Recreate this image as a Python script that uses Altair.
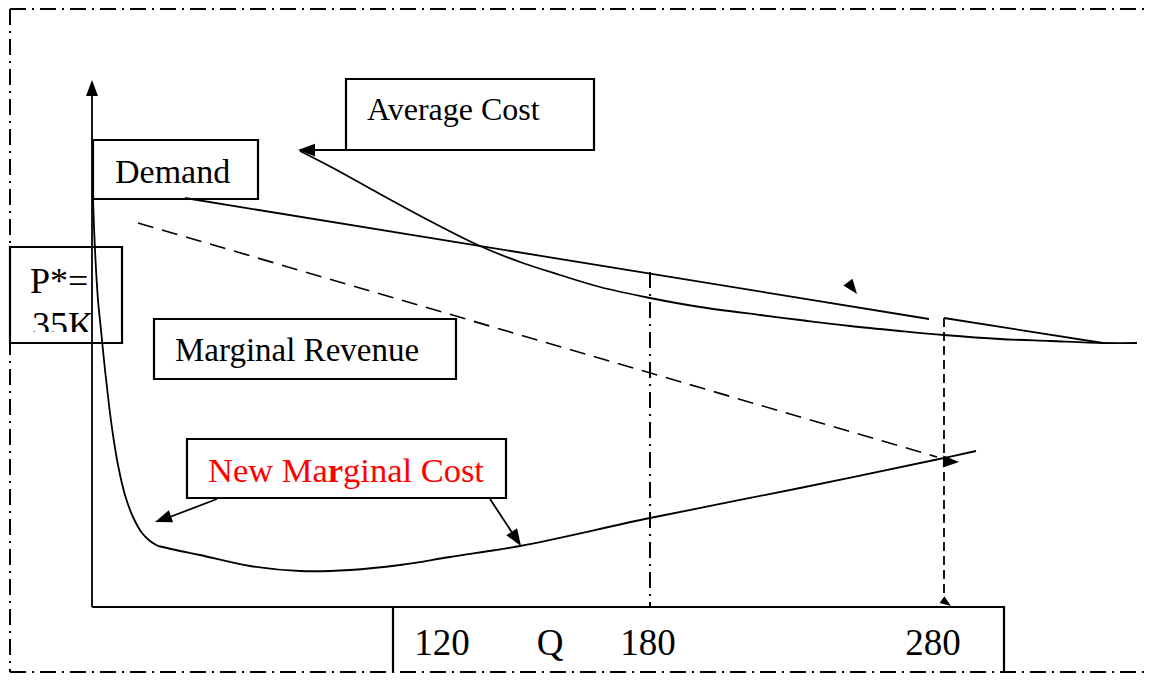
import math
import altair as alt
import pandas as pd

# ---------------- data (diagram units, y grows downward) ----------------
# Average Cost curve
ac_x = [300, 333, 380, 430, 480, 520, 560, 600, 650, 700, 760, 800, 850, 900, 944, 1000, 1050, 1103, 1137]
ac_y = [151, 168, 194, 221, 246, 262, 275, 287, 298, 307, 315, 320, 326, 331, 335, 339, 341, 343, 343]

# New Marginal Cost curve (steep part, then U part)
mc_upper_x = [93, 95, 98, 101, 105, 109, 113, 118, 125, 133, 142, 150, 158]
mc_upper_y = [198, 250, 300, 330, 370, 405, 435, 465, 495, 517, 533, 541, 546]
mc_lower_x = [158, 180, 200, 250, 300, 350, 400, 450, 520, 650, 800, 944, 976]
mc_lower_y = [546, 551, 555, 566, 571, 570, 565, 557, 546, 518, 488, 458, 451]

# Demand line (broken at Q = 280)
demand_a_x = [185, 929]
demand_a_y = [198, 319]
demand_b_x = [944, 1103]
demand_b_y = [318, 343]

# Marginal revenue (dashed)
mr_x = [138, 937]
mr_y = [223, 457]

# Axes and connector lines
yaxis_x = [92, 92]
yaxis_y = [607, 88]
xaxis_x = [92, 393]
xaxis_y = [607, 607]
ac_lead_x = [346, 305]
ac_lead_y = [150, 150]
nmc_left_x = [217, 162]
nmc_left_y = [499, 520]
nmc_right_x = [490, 515]
nmc_right_y = [499, 537]

# Quantity markers
q180_x = [650, 650]
q180_y = [272, 607]
q280_x = [944, 944]
q280_y = [318, 600]

# Frame (dash-dot), drawn at the edges of the visible page area
frame_top_x = [10, 1147]
frame_top_y = [9, 9]
frame_left_x = [10, 10]
frame_left_y = [9, 672]
frame_bottom_x = [10, 1147]
frame_bottom_y = [672, 672]

# Label boxes
box_names = ["Average Cost", "Demand", "P*", "Marginal Revenue", "New Marginal Cost", "Q axis"]
box_x1 = [346, 93, 10, 154, 187, 393]
box_x2 = [594, 258, 122, 456, 506, 1004]
box_y1 = [79, 140, 247, 319, 439, 607]
box_y2 = [150, 199, 343, 379, 498, 690]

# Texts
labels = ["Average Cost", "Demand", "P*=", "35K", "Marginal Revenue", "120", "Q", "180", "280"]
label_x = [367, 115, 30, 32, 175, 442, 550, 648, 933]
label_y = [120, 183, 293, 337, 361, 655, 655, 655, 655]
label_size = [32, 34, 36, 36, 33, 37, 37, 37, 37]
label_align = ["left", "left", "left", "left", "left", "center", "center", "center", "center"]

nmc_parts = ["New Ma", "r", "ginal Cost"]
nmc_x0 = 208
nmc_y = 482
nmc_size = 34.5
nmc_adv = [3.471, 0.444]   # em advances of "New Ma" and bold "r"

# Arrowheads: tip position, direction (deg, clockwise from up), length
head_tx = [92, 298, 155, 521, 959, 857, 951]
head_ty = [80, 150, 522, 546, 462, 294, 606]
head_ang = [0, 270, 250, 147, 92, 143, 125]
head_len = [16, 17, 17, 17, 16, 15, 11]

# ---------------- build tables ----------------
def seg(name, xs, ys):
    return [{"s": name, "i": i, "x": x, "y": y} for i, (x, y) in enumerate(zip(xs, ys))]

smooth_rows = (seg("ac", ac_x, ac_y) + seg("mc1", mc_upper_x, mc_upper_y) +
               seg("mc2", mc_lower_x, mc_lower_y))
straight_rows = (seg("da", demand_a_x, demand_a_y) + seg("db", demand_b_x, demand_b_y) +
                 seg("ya", yaxis_x, yaxis_y) + seg("xa", xaxis_x, xaxis_y) +
                 seg("acl", ac_lead_x, ac_lead_y) + seg("nl", nmc_left_x, nmc_left_y) +
                 seg("nr", nmc_right_x, nmc_right_y))
mr_rows = seg("mr", mr_x, mr_y)
q280_rows = seg("q280", q280_x, q280_y)
dashdot_rows = (seg("q180", q180_x, q180_y) + seg("ft", frame_top_x, frame_top_y) +
                seg("fl", frame_left_x, frame_left_y) + seg("fb", frame_bottom_x, frame_bottom_y))

boxes = pd.DataFrame({"name": box_names, "x": box_x1, "x2": box_x2, "y": box_y1, "y2": box_y2})
texts = pd.DataFrame({"t": labels, "x": label_x, "y": label_y, "size": label_size, "align": label_align})

nmc_pos = [nmc_x0, nmc_x0 + nmc_adv[0] * nmc_size, nmc_x0 + (nmc_adv[0] + nmc_adv[1]) * nmc_size]
nmc_df = pd.DataFrame({"t": nmc_parts, "x": nmc_pos, "y": [nmc_y] * 3})

heads = []
for tx, ty, a, L in zip(head_tx, head_ty, head_ang, head_len):
    r = math.radians(a)
    heads.append({"x": tx - L / 2 * math.sin(r), "y": ty + L / 2 * math.cos(r),
                  "angle": a, "size": L * L})
heads = pd.DataFrame(heads)

mask = pd.DataFrame({"x": [12], "x2": [120.5], "y": [332], "y2": [341.5]})

# ---------------- scales ----------------
X = lambda f="x": alt.X(f"{f}:Q", scale=alt.Scale(domain=[8, 1147], nice=False, zero=False), axis=None)
Y = lambda f="y": alt.Y(f"{f}:Q", scale=alt.Scale(domain=[8, 673], reverse=True, nice=False, zero=False), axis=None)

FONT = "Liberation Serif"

box_layer = alt.Chart(boxes).mark_rect(fill="white", stroke="black", strokeWidth=2.2, clip=True).encode(
    x=X(), x2="x2:Q", y=Y(), y2="y2:Q")

text_left = alt.Chart(texts).transform_filter("datum.align == 'left'").mark_text(
    font=FONT, align="left", baseline="alphabetic", color="black").encode(
    x=X(), y=Y(), text="t:N", size=alt.Size("size:Q", scale=None))
text_center = alt.Chart(texts).transform_filter("datum.align == 'center'").mark_text(
    font=FONT, align="center", baseline="alphabetic", color="black").encode(
    x=X(), y=Y(), text="t:N", size=alt.Size("size:Q", scale=None))

nmc_normal = alt.Chart(nmc_df).transform_filter("datum.t != 'r'").mark_text(
    font=FONT, align="left", baseline="alphabetic", color="#ff0000", fontSize=nmc_size).encode(
    x=X(), y=Y(), text="t:N")
nmc_bold = alt.Chart(nmc_df).transform_filter("datum.t == 'r'").mark_text(
    font=FONT, align="left", baseline="alphabetic", color="#ff0000", fontSize=nmc_size,
    fontWeight="bold").encode(x=X(), y=Y(), text="t:N")

mask_layer = alt.Chart(mask).mark_rect(fill="white", strokeWidth=0).encode(
    x=X(), x2="x2:Q", y=Y(), y2="y2:Q")

smooth = alt.Chart(pd.DataFrame(smooth_rows)).mark_line(
    color="black", strokeWidth=1.8, interpolate="catmull-rom").encode(
    x=X(), y=Y(), detail="s:N", order="i:Q")
straight = alt.Chart(pd.DataFrame(straight_rows)).mark_line(
    color="black", strokeWidth=1.8).encode(x=X(), y=Y(), detail="s:N", order="i:Q")
mr_line = alt.Chart(pd.DataFrame(mr_rows)).mark_line(
    color="black", strokeWidth=1.6, strokeDash=[16, 9]).encode(x=X(), y=Y(), detail="s:N", order="i:Q")
q280_line = alt.Chart(pd.DataFrame(q280_rows)).mark_line(
    color="black", strokeWidth=1.8, strokeDash=[9, 5]).encode(x=X(), y=Y(), detail="s:N", order="i:Q")
dashdot = alt.Chart(pd.DataFrame(dashdot_rows)).mark_line(
    color="black", strokeWidth=2, strokeDash=[16, 6, 2, 6], clip=True).encode(
    x=X(), y=Y(), detail="s:N", order="i:Q")

head_layer = alt.Chart(heads).mark_point(
    shape="M0,-1L0.75,1L-0.75,1Z", filled=True, opacity=1, color="black", strokeWidth=0).encode(
    x=X(), y=Y(), angle=alt.Angle("angle:Q", scale=None), size=alt.Size("size:Q", scale=None))

chart = alt.layer(
    box_layer, text_left, text_center, nmc_normal, nmc_bold, mask_layer,
    smooth, straight, mr_line, q280_line, dashdot, head_layer
).properties(
    width=1139, height=665, padding=0, autosize=alt.AutoSizeParams(type="none"),
    background="white"
).configure_view(stroke=None)

chart.save("out.html", embed_options={"renderer": "svg", "actions": False})
